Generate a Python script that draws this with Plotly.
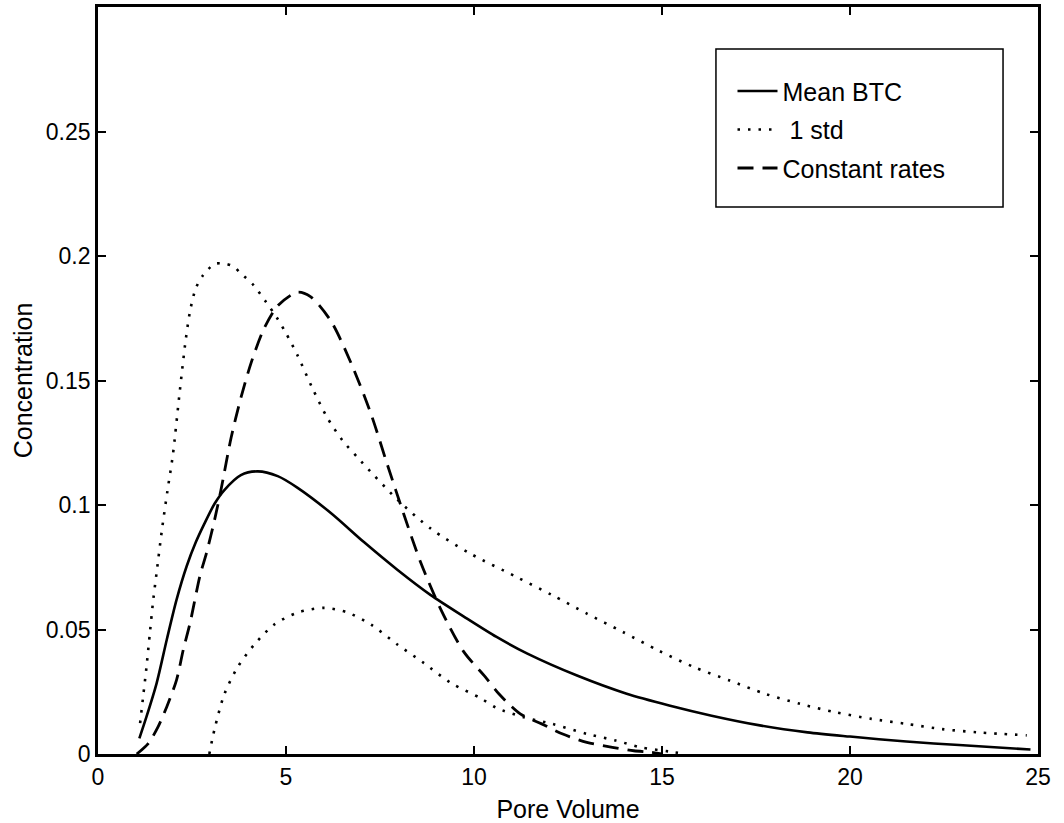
import plotly.graph_objects as go

# Mean breakthrough curve
mean_x = [1.1, 1.29, 1.56, 1.83, 2.09, 2.36, 2.6, 2.83, 3.1, 3.36, 3.8, 4.25, 4.78,
          5.3, 6.2, 7.08, 7.96, 8.85, 9.73, 10.6, 11.42, 12.74, 14.06, 15.19, 16.32,
          17.64, 18.87, 20.0, 21.5, 22.9, 24.8]
mean_y = [0.0063, 0.015, 0.0285, 0.046, 0.062, 0.0755, 0.085, 0.0925, 0.1005, 0.106,
          0.112, 0.1135, 0.1116, 0.107, 0.0967, 0.085, 0.074, 0.0638, 0.0552, 0.047,
          0.0403, 0.0315, 0.0242, 0.0195, 0.0154, 0.0114, 0.0087, 0.007, 0.005,
          0.0036, 0.0018]

# Mean + 1 standard deviation
upper_x = [1.12, 1.2, 1.29, 1.38, 1.47, 1.56, 1.7, 1.85, 1.99, 2.17, 2.33, 2.45, 2.6,
           2.78, 3.1, 3.35, 3.6, 3.8, 4.13, 4.46, 4.75, 5.0, 5.31, 5.7, 6.1, 6.5, 7.0,
           7.96, 8.85, 9.9, 11.13, 12.08, 13.0, 13.96, 14.9, 15.85, 16.8, 17.74,
           18.68, 19.6, 20.57, 21.5, 22.45, 23.4, 24.7]
upper_y = [0.0124, 0.023, 0.035, 0.0487, 0.062, 0.073, 0.09, 0.106, 0.12, 0.145,
           0.166, 0.178, 0.187, 0.192, 0.1968, 0.197, 0.1958, 0.193, 0.1884, 0.1817,
           0.1754, 0.169, 0.160, 0.147, 0.135, 0.126, 0.1175, 0.1022, 0.0905, 0.0805,
           0.0711, 0.0638, 0.0564, 0.049, 0.0416, 0.0349, 0.0295, 0.0242, 0.0201,
           0.0168, 0.0141, 0.0121, 0.010, 0.0087, 0.0075]

# Mean - 1 standard deviation
lower_x = [2.96, 3.1, 3.36, 3.72, 4.16, 4.69, 5.31, 6.02, 6.64, 7.26, 7.96, 8.67,
           9.38, 10.18, 10.6, 11.32, 12.08, 13.02, 13.77, 14.43, 15.19, 15.5]
lower_y = [0.0, 0.01, 0.024, 0.035, 0.044, 0.052, 0.0568, 0.0587, 0.0568, 0.052,
           0.044, 0.0365, 0.0286, 0.0224, 0.0185, 0.0148, 0.0121, 0.008, 0.0054,
           0.0027, 0.001, 0.0003]

# Breakthrough curve with constant rates
const_x = [1.03, 1.34, 1.6, 1.83, 2.09, 2.27, 2.45, 2.71, 2.89, 3.1, 3.27, 3.54, 3.8,
           4.07, 4.42, 4.78, 5.31, 5.66, 6.19, 6.73, 7.26, 7.7, 8.14, 8.58, 9.12,
           9.73, 10.3, 10.66, 11.23, 11.8, 12.36, 13.0, 13.68, 14.25, 14.7, 15.0]
const_y = [0.0, 0.0043, 0.011, 0.019, 0.0298, 0.042, 0.0527, 0.0715, 0.081, 0.094,
           0.106, 0.127, 0.143, 0.157, 0.171, 0.180, 0.1855, 0.1836, 0.174, 0.157,
           0.1366, 0.116, 0.096, 0.077, 0.058, 0.041, 0.031, 0.0242, 0.0161, 0.0121,
           0.008, 0.0047, 0.0027, 0.0013, 0.0007, 0.0]

x_ticks = [0, 5, 10, 15, 20, 25]
y_ticks = [0, 0.05, 0.1, 0.15, 0.2, 0.25]
y_tick_text = ["0", "0.05", "0.1", "0.15", "0.2", "0.25"]

FONT = "Liberation Sans, Arial, Helvetica, sans-serif"
DOT = "2.5px,8px"
DASH = "16px,9px"

fig = go.Figure()
fig.add_trace(go.Scatter(x=mean_x, y=mean_y, mode="lines", name="Mean BTC",
                         legendgroup="a",
                         line=dict(color="black", width=2.6, shape="spline", smoothing=0.8)))
fig.add_trace(go.Scatter(x=upper_x, y=upper_y, mode="lines", name="\u00a01 std",
                         legendgroup="b",
                         line=dict(color="black", width=2.6, dash=DOT, shape="spline", smoothing=0.8)))
fig.add_trace(go.Scatter(x=lower_x, y=lower_y, mode="lines", name="\u00a01 std",
                         legendgroup="b", showlegend=False,
                         line=dict(color="black", width=2.6, dash=DOT, shape="spline", smoothing=0.8)))
fig.add_trace(go.Scatter(x=const_x, y=const_y, mode="lines", name="Constant rates",
                         legendgroup="c",
                         line=dict(color="black", width=2.8, dash=DASH, shape="spline", smoothing=0.8)))

axis_common = dict(showline=True, linecolor="black", linewidth=2.8, mirror="ticks",
                   ticks="inside", ticklen=8, tickwidth=1.5, tickcolor="black",
                   showgrid=False, zeroline=False, automargin=False,
                   tickfont=dict(family=FONT, size=23, color="black"))

fig.update_xaxes(range=[0, 25], tickvals=x_ticks, ticktext=[str(v) for v in x_ticks],
                 title=dict(text="Pore Volume", standoff=12,
                            font=dict(family=FONT, size=25, color="black")),
                 **axis_common)
fig.update_yaxes(range=[0, 0.3], tickvals=y_ticks, ticktext=y_tick_text,
                 title=dict(text="Concentration", standoff=6,
                            font=dict(family=FONT, size=25, color="black")),
                 **axis_common)

# Legend frame
fig.add_shape(type="rect", xref="paper", yref="paper",
              x0=0.6574, x1=0.9628, y0=0.7323, y1=0.9438,
              line=dict(color="black", width=1.5), fillcolor="white", layer="above")

fig.update_layout(
    width=1064, height=823,
    margin=dict(l=98, r=26, t=7, b=69, autoexpand=False),
    paper_bgcolor="white", plot_bgcolor="white",
    font=dict(family=FONT, size=23, color="black"),
    showlegend=True,
    legend=dict(x=0.675, y=0.918, xanchor="left", yanchor="top",
                bgcolor="rgba(0,0,0,0)", borderwidth=0, tracegroupgap=3,
                font=dict(family=FONT, size=25, color="black"),
                itemwidth=40),
)

fig.write_html("out.html")
